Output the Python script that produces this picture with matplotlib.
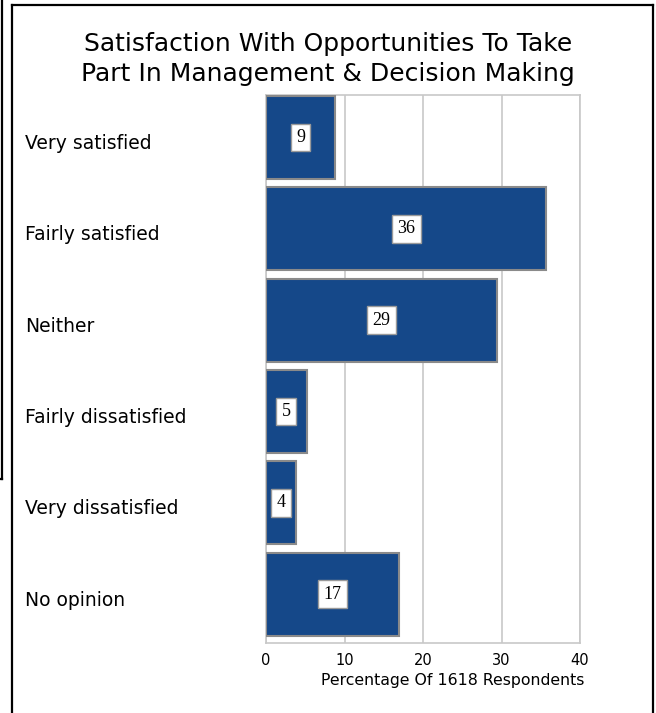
import matplotlib.pyplot as plt
import matplotlib.transforms as mtransforms
from matplotlib.lines import Line2D

categories = ["Very satisfied", "Fairly satisfied", "Neither",
              "Fairly dissatisfied", "Very dissatisfied", "No opinion"]
values = [8.8, 35.7, 29.4, 5.2, 3.8, 16.9]
labels = ["9", "36", "29", "5", "4", "17"]
xticks = [0, 10, 20, 30, 40]

W, H = 656, 713
fig = plt.figure(figsize=(W / 100, H / 100), dpi=100)

# axes placed in pixel terms
ax = fig.add_axes([266 / W, 1 - 643 / H, 314 / W, 548 / H])

bar_h = 0.91
ypos = [i - 0.5 + 0.01 for i in range(len(categories))]
ax.barh(ypos, values, height=bar_h, align="edge", color="#154889",
        edgecolor="#8a8a8a", linewidth=1.5, zorder=3)

for i, (v, lab) in enumerate(zip(values, labels)):
    ax.text(v / 2, ypos[i] + bar_h / 2, lab, ha="center", va="center",
            family="Liberation Serif", fontsize=13, zorder=4,
            bbox=dict(boxstyle="square,pad=0.3", fc="white", ec="#9a9a9a", lw=1))

ax.set_xlim(0, 40)
ax.set_ylim(len(categories) - 0.5, -0.5)
ax.set_xticks(xticks)
ax.set_yticks([])
ax.tick_params(axis="x", length=0, pad=7, labelsize=10.5)
ax.grid(axis="x", color="#c8c8c8", linewidth=1.2, zorder=0)
for s in ax.spines.values():
    s.set_color("#c8c8c8")
    s.set_linewidth(1.2)
ax.set_xlabel("Percentage Of 1618 Respondents", fontsize=11.3)
ax.xaxis.set_label_coords((453 - 266) / 314, (643 - 673) / 548)

# category names, left aligned near the frame
trans = mtransforms.blended_transform_factory(fig.transFigure, ax.transData)
for i, c in enumerate(categories):
    ax.text(25 / W, i + 0.03, c, transform=trans, ha="left", va="center",
            fontsize=13.5)

fig.text(328 / W, 1 - 59 / H,
         "Satisfaction With Opportunities To Take\nPart In Management & Decision Making",
         ha="center", va="center", fontsize=18, linespacing=1.3)

# outer frame (bottom edge runs off the image)
fr = dict(color="black", linewidth=1.6, transform=fig.transFigure)
fig.add_artist(Line2D([12 / W, 12 / W], [0, 1 - 5 / H], **fr))
fig.add_artist(Line2D([12 / W, 653 / W], [1 - 5 / H, 1 - 5 / H], **fr))
fig.add_artist(Line2D([653 / W, 653 / W], [1 - 5 / H, 0], **fr))
# edge of the neighbouring box on the left
fig.add_artist(Line2D([2 / W, 2 / W], [1, 1 - 479 / H], **fr))
fig.add_artist(Line2D([0, 2 / W], [1 - 479 / H, 1 - 479 / H], **fr))

fig.savefig("out.png", dpi=100)
